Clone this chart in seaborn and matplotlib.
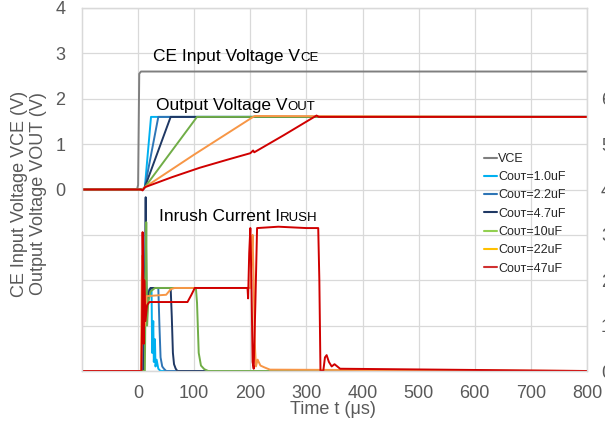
import numpy as np
import pandas as pd
import matplotlib
matplotlib.use("Agg")
import matplotlib.pyplot as plt
from matplotlib.lines import Line2D
import seaborn as sns

# ---- data (time in us, voltage in V, current in mA) ----
t_vce = [-100, -2, 0, 2, 5, 800]
v_vce = [0, 0, 0.1, 2.55, 2.6, 2.6]

t_vout_1u0 = [-100, 8, 12, 23, 26, 800]
v_vout_1u0 = [0, 0, 0.05, 1.6, 1.6, 1.6]
t_vout_2u2 = [-100, 8, 12, 36, 800]
v_vout_2u2 = [0, 0, 0.05, 1.6, 1.6]
t_vout_4u7 = [-100, 8, 12, 58, 800]
v_vout_4u7 = [0, 0, 0.05, 1.6, 1.6]
t_vout_10u = [-100, 8, 12, 105, 800]
v_vout_10u = [0, 0, 0.05, 1.6, 1.6]
t_vout_22u = [-100, 8, 12, 100, 205, 208, 800]
v_vout_22u = [0, 0, 0.05, 0.77, 1.6, 1.62, 1.6]
t_vout_47u = [-100, 5, 8, 12, 60, 110, 160, 200, 205, 207, 260, 318, 322, 800]
v_vout_47u = [0, 0, -0.02, 0.05, 0.27, 0.48, 0.66, 0.80, 0.86, 0.82, 1.2, 1.63, 1.6, 1.6]

t_irush_1u0 = [-100, 9, 11, 13, 15, 18, 22, 24, 25, 27, 28, 30, 31, 33, 36, 40, 800]
i_irush_1u0 = [0, 0, 170, 120, 178, 160, 178, 175, 40, 110, 20, 70, 10, 25, 5, 0, 0]
t_irush_2u2 = [-100, 9, 12, 15, 20, 30, 36, 38, 40, 43, 46, 50, 800]
i_irush_2u2 = [0, 0, 200, 150, 180, 183, 183, 100, 30, 10, 5, 0, 0]
t_irush_4u7 = [-100, 10, 12, 13.5, 14.5, 16, 18, 22, 30, 58, 60, 62, 64, 67, 70, 800]
i_irush_4u7 = [0, 0, 150, 383, 200, 140, 170, 183, 183, 183, 120, 40, 15, 5, 0, 0]
t_irush_10u = [-100, 10, 12, 14.5, 16, 18, 22, 30, 103, 105, 108, 112, 118, 125, 800]
i_irush_10u = [0, 0, 0, 328, 100, 150, 175, 183, 183, 150, 40, 12, 4, 0, 0]
t_irush_22u = [-100, 5, 6.5, 8, 10, 12, 15, 50, 58, 65, 200, 202, 204, 206, 208, 210, 213, 218, 225, 235, 800]
i_irush_22u = [0, 0, 200, 255, 180, 100, 165, 168, 180, 183, 183, 240, 300, 200, 60, 10, 25, 12, 8, 3, 0]
t_irush_47u = [-100, 6, 7, 8, 9, 10, 11, 13, 16, 20, 88, 95, 101, 150, 195, 196, 198, 200, 202, 204,
               206, 209, 212, 250, 300, 321, 323, 325, 330, 333, 336, 340, 345, 350, 360, 800]
i_irush_47u = [0, 0, 100, 306, 200, 60, 200, 110, 145, 152, 152, 168, 183, 183, 183, 160, 260, 315, 200, 20,
               5, 150, 315, 318, 315, 315, 200, 0, 0, 30, 35, 20, 10, 15, 5, 0]

series_names = ["VCE", "Cᴏᴜᴛ=1.0uF", "Cᴏᴜᴛ=2.2uF", "Cᴏᴜᴛ=4.7uF", "Cᴏᴜᴛ=10uF", "Cᴏᴜᴛ=22uF", "Cᴏᴜᴛ=47uF"]
line_colors = ["#7F7F7F", "#00B0F0", "#2E75B6", "#1F3864", "#70AD47", "#F79646", "#D00000"]
legend_colors = ["#7F7F7F", "#00B0F0", "#2E75B6", "#1F3864", "#92D050", "#FFC000", "#D03030"]

x_ticks = [0, 100, 200, 300, 400, 500, 600, 700, 800]
left_ticks = [-4, -3, -2, -1, 0, 1, 2, 3, 4]
right_ticks = [0, 100, 200, 300, 400, 500, 600]

sns.set_theme(style="white")
plt.rcParams['font.family'] = ['Liberation Sans', 'DejaVu Sans']
grey_txt = "#595959"
grid_c = "#D9D9D9"

fig = plt.figure(figsize=(6.05, 4.26), dpi=100)
ax = fig.add_axes([82 / 605, 1 - 371 / 426, 505 / 605, 363 / 426])
ax2 = ax.twinx()

volt = [(t_vce, v_vce), (t_vout_1u0, v_vout_1u0), (t_vout_2u2, v_vout_2u2), (t_vout_4u7, v_vout_4u7),
        (t_vout_10u, v_vout_10u), (t_vout_22u, v_vout_22u), (t_vout_47u, v_vout_47u)]
curr = [None, (t_irush_1u0, i_irush_1u0), (t_irush_2u2, i_irush_2u2), (t_irush_4u7, i_irush_4u7),
        (t_irush_10u, i_irush_10u), (t_irush_22u, i_irush_22u), (t_irush_47u, i_irush_47u)]

for (tv, vv), col in zip(volt, line_colors):
    sns.lineplot(x=tv, y=vv, ax=ax, color=col, lw=1.4, estimator=None, sort=False)
for cur, col in zip(curr, line_colors):
    if cur is None:
        continue
    sns.lineplot(x=cur[0], y=cur[1], ax=ax2, color=col, lw=1.4, estimator=None, sort=False)

ax.set_xlim(-100, 800)
ax.set_ylim(-4, 4)
ax2.set_ylim(0, 800)
ax.set_xticks(x_ticks)
ax.set_yticks(left_ticks)
ax.set_yticklabels([str(v) if v >= 0 else "" for v in left_ticks])
ax2.set_yticks(right_ticks)
ax2.set_yticklabels([str(v) for v in right_ticks])
ax.grid(True, color=grid_c, lw=0.9)
ax2.grid(False)
ax.tick_params(axis='both', length=0, labelsize=13, labelcolor=grey_txt)
ax.tick_params(axis='y', pad=12)
ax.tick_params(axis='x', pad=10)
# right-hand current scale sits mostly past the figure edge, as in the source image
ax2.tick_params(axis='y', length=0, labelsize=13, labelcolor=grey_txt, pad=10)
for a in (ax, ax2):
    for s in a.spines.values():
        s.set_color(grid_c)
        s.set_linewidth(0.9)
ax.set_xlabel("")
ax.set_ylabel("")
ax2.set_ylabel("")

fig.text(333 / 605, 1 - 410 / 426, "Time t (μs)", ha='center', va='center', fontsize=13, color=grey_txt)
fig.text(29 / 605, 1 - 194 / 426, "CE Input Voltage VCE (V)\nOutput Voltage VOUT (V)", rotation=90,
         ha='center', va='center', fontsize=13, color=grey_txt, linespacing=1.15)


def label_small_caps(x, y, main, small):
    t = ax.text(x, y, main, fontsize=12.5, va='baseline', ha='left', color='black')
    ax.annotate(small, xy=(1.0, y), xycoords=(t, 'data'), fontsize=9.5, va='baseline', ha='left', color='black')


label_small_caps(27, 2.84, "CE Input Voltage V", "CE")
label_small_caps(32, 1.76, "Output Voltage V", "OUT")
label_small_caps(37, -0.70, "Inrush Current I", "RUSH")

handles = [Line2D([0], [0], color=c, lw=1.5) for c in legend_colors]
fig.legend(handles, series_names, loc='upper left', bbox_to_anchor=(484 / 605, 1 - 153 / 426),
           frameon=False, fontsize=9, handlelength=1.0, handletextpad=0.15, labelspacing=0.5,
           borderpad=0, borderaxespad=0)

fig.savefig("out.png", dpi=100)
